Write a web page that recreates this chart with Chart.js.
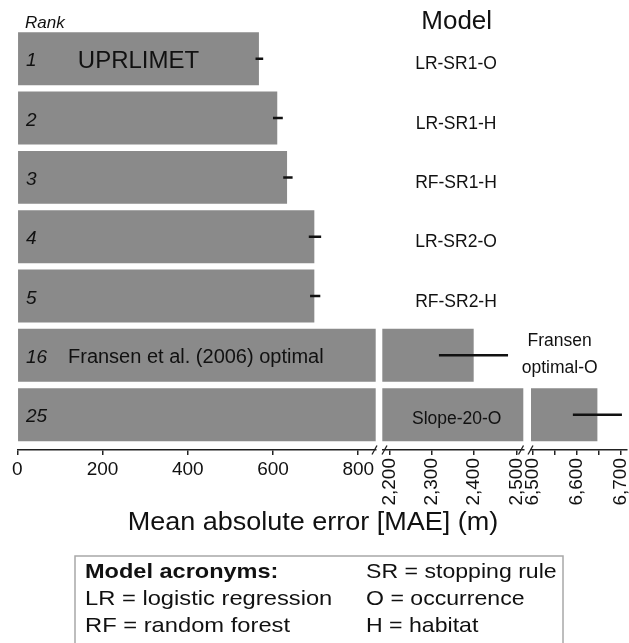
<!DOCTYPE html>
<html>
<head>
<meta charset="utf-8">
<script src="https://cdn.jsdelivr.net/npm/chart.js@4.4.1/dist/chart.umd.min.js"></script>
<style>
  html, body { margin: 0; padding: 0; background: #fff; }
  #wrap { position: relative; width: 629px; height: 643px; overflow: hidden; }
  #wrap canvas { position: absolute; left: 0; top: 0; }
</style>
</head>
<body>
<div id="wrap">
  <canvas id="seg1" width="680" height="643"></canvas>
  <canvas id="seg2" width="680" height="643"></canvas>
  <canvas id="seg3" width="680" height="643"></canvas>
</div>
<script>
// Ranking of models by mean absolute error (broken x axis)
const ranks = ['1', '2', '3', '4', '5', '16', '25'];
const models = ['LR-SR1-O', 'LR-SR1-H', 'RF-SR1-H', 'LR-SR2-O', 'RF-SR2-H', 'Fransen optimal-O', 'Slope-20-O'];
const rowPos = [0, 1, 2, 3, 4, 5, 6];
const maeValues = [567, 610, 633, 697, 697, 2399, 6647];
const errLow = [559, 600, 624, 684, 687, 2317, 6591];
const errHigh = [577, 623, 646, 713, 711, 2480, 6703];

const ticks1 = [0, 200, 400, 600, 800];
const ticks2 = [2200, 2300, 2400, 2500];
const ticks3 = [6500, 6550, 6600, 6650, 6700];

const CW = 680, CH = 643;
const AXIS_Y = 450, AXIS_H = 60;
const sans = "'Liberation Sans', Arial, sans-serif";
const narrow = "'Liberation Sans Narrow', 'Arial Narrow', 'Liberation Sans', Arial, sans-serif";

// three pieces of the broken axis
const segs = [
    { id: 'seg1', min: 0, max: 841, ticks: ticks1, left: 17.3, right: 375.7, rotate: 0, breaks: [374.5] },
    { id: 'seg2', min: 2183.5, max: 2516, ticks: ticks2, left: 382.3, right: 523.3, rotate: 90, breaks: [384.5, 521] },
    { id: 'seg3', min: 6495.4, max: 6714.6, ticks: ticks3, left: 531, right: 627, rotate: 90, breaks: [530.5] }
];

function put(ctx, text, x, y, font, align, sx) {
    ctx.save();
    ctx.font = font;
    ctx.fillStyle = '#111';
    ctx.textAlign = align || 'left';
    ctx.textBaseline = 'alphabetic';
    ctx.translate(x, y);
    ctx.scale(sx || 1, 1);
    ctx.fillText(text, 0, 0);
    ctx.restore();
}

// the little "/" marks where the axis is cut
const breakMarks = {
    id: 'breakMarks',
    afterDraw(chart, args, opts) {
        const ctx = chart.ctx;
        const y = chart.chartArea.bottom;
        ctx.save();
        ctx.strokeStyle = '#222';
        ctx.lineWidth = 1.3;
        opts.at.forEach(x => {
            ctx.beginPath();
            ctx.moveTo(x - 2.5, y + 4.5);
            ctx.lineTo(x + 2.5, y - 4.5);
            ctx.stroke();
        });
        ctx.restore();
    }
};

// rank numbers, model names, headers, axis title and the acronym box
// (drawn on the top canvas so no bar covers them)
const labels = {
    id: 'labels',
    afterDraw(chart) {
        const ctx = chart.ctx;
        const yScale = chart.scales.y;
        const cy = rowPos.map(r => yScale.getPixelForValue(r));

        put(ctx, 'Rank', 25, 28, 'italic 17px ' + sans);
        put(ctx, 'Model', 456.7, 29, '26px ' + sans, 'center');

        ranks.forEach((r, i) => put(ctx, r, 26, cy[i] + 7.5, 'italic 19px ' + sans));
        for (let i = 0; i < 5; i++) {
            put(ctx, models[i], 456, cy[i] + 10.5, '17.5px ' + sans, 'center');
        }
        const fr = models[5].split(' ');
        put(ctx, fr[0], 559.7, cy[5] - 9.3, '17.5px ' + sans, 'center');
        put(ctx, fr[1], 559.7, cy[5] + 17.7, '17.5px ' + sans, 'center');
        put(ctx, models[6], 456.7, cy[6] + 9.5, '17.5px ' + sans, 'center');

        put(ctx, 'UPRLIMET', 138.5, cy[0] + 9.3, '24px ' + sans, 'center');
        put(ctx, 'Fransen et al. (2006) optimal', 68, cy[5] + 8, '20px ' + sans);

        put(ctx, 'Mean absolute error [MAE] (m)', 313, 530, '25px ' + sans, 'center', 1.08);

        ctx.save();
        ctx.strokeStyle = '#a8a8a8';
        ctx.lineWidth = 1.5;
        ctx.strokeRect(75, 556, 488, 100);
        ctx.restore();
        const lf = '21px ' + sans;
        put(ctx, 'Model acronyms:', 85, 578, 'bold ' + lf, 'left', 1.12);
        put(ctx, 'LR = logistic regression', 85, 605, lf, 'left', 1.13);
        put(ctx, 'RF = random forest', 85, 632, lf, 'left', 1.13);
        put(ctx, 'SR = stopping rule', 366, 578, lf, 'left', 1.1);
        put(ctx, 'O = occurrence', 366, 605, lf, 'left', 1.1);
        put(ctx, 'H = habitat', 366, 632, lf, 'left', 1.1);
    }
};

function makeChart(seg, withLabels) {
    const ctx = document.getElementById(seg.id).getContext('2d');
    return new Chart(ctx, {
        type: 'bar',
        data: {
            datasets: [{
                label: 'MAE',
                data: rowPos.map((r, i) => ({ x: maeValues[i], y: r })),
                backgroundColor: '#8a8a8a',
                grouped: false,
                categoryPercentage: 1,
                barPercentage: 0.893,
                clip: 0,
                order: 1
            }, {
                label: 'Error',
                data: rowPos.map((r, i) => ({ x: [errLow[i], errHigh[i]], y: r })),
                backgroundColor: '#111',
                grouped: false,
                categoryPercentage: 1,
                barPercentage: 0.042,
                clip: 0,
                order: 0
            }]
        },
        options: {
            indexAxis: 'y',
            responsive: false,
            animation: false,
            devicePixelRatio: 1,
            layout: {
                padding: { left: seg.left, right: CW - seg.right, top: 29.1, bottom: CH - AXIS_Y - AXIS_H }
            },
            plugins: {
                legend: { display: false },
                tooltip: { enabled: false },
                breakMarks: { at: seg.breaks }
            },
            scales: {
                y: {
                    type: 'linear',
                    min: -0.5,
                    max: 6.596,
                    reverse: true,
                    offset: false,
                    display: false,
                    afterBuildTicks: s => { s.ticks = rowPos.map(v => ({ value: v })); }
                },
                x: {
                    type: 'linear',
                    min: seg.min,
                    max: seg.max,
                    afterBuildTicks: s => { s.ticks = seg.ticks.map(v => ({ value: v })); },
                    afterFit: s => { s.height = AXIS_H; },
                    grid: { display: true, drawOnChartArea: false, drawTicks: true, tickLength: 5, color: '#222', lineWidth: 1.5 },
                    border: { display: true, color: '#222', width: 1.5 },
                    ticks: {
                        autoSkip: false,
                        minRotation: seg.rotate,
                        maxRotation: seg.rotate,
                        padding: 3,
                        color: '#111',
                        font: { family: narrow, size: 19 },
                        callback: v => (v % 100 !== 0 ? '' : v.toLocaleString('en-US'))
                    }
                }
            }
        },
        plugins: withLabels ? [breakMarks, labels] : [breakMarks]
    });
}

segs.forEach((seg, i) => makeChart(seg, i === segs.length - 1));
</script>
</body>
</html>
